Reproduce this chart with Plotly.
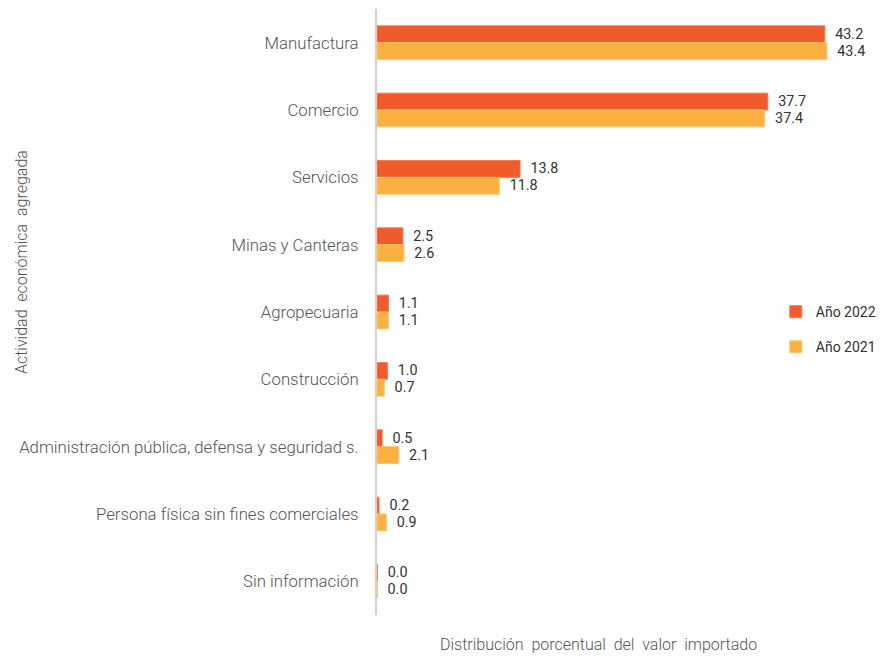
import plotly.graph_objects as go

categories = [
    "Manufactura",
    "Comercio",
    "Servicios",
    "Minas y Canteras",
    "Agropecuaria",
    "Construcción",
    "Administración pública, defensa y seguridad s.",
    "Persona física sin fines comerciales",
    "Sin información",
]
values_2022 = [43.2, 37.7, 13.8, 2.5, 1.1, 1.0, 0.5, 0.2, 0.03]
values_2021 = [43.4, 37.4, 11.8, 2.6, 1.1, 0.7, 2.1, 0.9, 0.02]

FONT = "Roboto, Arial, sans-serif"

fig = go.Figure()
fig.add_trace(go.Bar(
    y=categories, x=values_2022, orientation="h", name="Año 2022",
    legendgroup="a",
    marker=dict(color="#F15A2B", line=dict(color="#F47A55", width=1)),
    texttemplate="\u2002%{x:.1f}", textposition="outside", cliponaxis=False,
    textfont=dict(family=FONT, size=14.5, color="#333333"),
))
fig.add_trace(go.Bar(
    y=categories, x=values_2021, orientation="h", name="Año 2021",
    legendgroup="b",
    marker=dict(color="#FBB040", line=dict(color="#FCC766", width=1)),
    texttemplate="\u2002%{x:.1f}", textposition="outside", cliponaxis=False,
    textfont=dict(family=FONT, size=14.5, color="#333333"),
))

# page body adds an 8px offset, so the figure is drawn 8px smaller
fig.update_layout(
    width=877, height=648,
    margin=dict(l=369, r=0, t=1, b=41, autoexpand=False),
    barmode="group", bargap=0.5, bargroupgap=0,
    plot_bgcolor="white", paper_bgcolor="white",
    font=dict(family=FONT, size=16, color="#555555"),
    legend=dict(
        x=0.785, y=0.471, xanchor="left", yanchor="middle",
        font=dict(size=14, color="#333333"), tracegroupgap=14,
        bgcolor="rgba(0,0,0,0)", borderwidth=0,
    ),
    xaxis=dict(range=[0, 49.0], showgrid=False, zeroline=False,
               showticklabels=False, ticks=""),
    yaxis=dict(autorange="reversed", showgrid=False, showline=True,
               linecolor="#d0d0d0", linewidth=2, ticks="",
               ticklabelstandoff=13,
               tickfont=dict(size=16.8, color="#555555", weight=300)),
    annotations=[
        dict(text="Distribución  porcentual  del  valor  importado",
             xref="paper", yref="paper", x=0.436, y=-0.0495,
             xanchor="center", yanchor="middle", showarrow=False,
             font=dict(size=16, color="#555555", weight=300)),
        dict(text="Actividad  económica  agregada", textangle=-90,
             xref="paper", yref="paper", x=-0.70, y=0.583,
             xanchor="center", yanchor="middle", showarrow=False,
             font=dict(size=16, color="#555555", weight=300)),
    ],
)

fig.write_html("out.html")
